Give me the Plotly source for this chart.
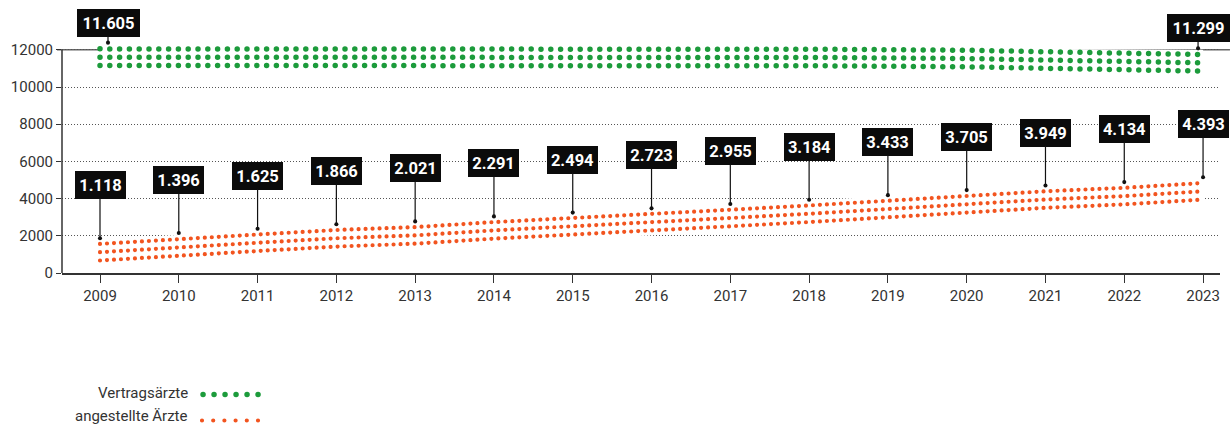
import plotly.graph_objects as go

# ---------------- data ----------------
years = list(range(2009, 2024))
vertragsaerzte = [11605, 11600, 11595, 11550, 11540, 11570, 11580, 11585,
                  11585, 11590, 11570, 11530, 11450, 11360, 11299]
angestellte = [1118, 1396, 1625, 1866, 2021, 2291, 2494, 2723,
               2955, 3184, 3433, 3705, 3949, 4134, 4393]
green_label_years = [2009, 2023]
y_ticks = [0, 2000, 4000, 6000, 8000, 10000, 12000]
series_names = ["Vertragsärzte", "angestellte Ärzte"]

GREEN = "#1c9b3b"
ORANGE = "#f2541f"
FONT = "Roboto"
ROW_OFFSETS = [445, 0, -445]   # three rows of dots per series


def de_num(v):
    return f"{v:,}".replace(",", ".")


fig = go.Figure()

# white bands under the dotted rows (hide gridlines like the original)
for vals in (vertragsaerzte, angestellte):
    fig.add_trace(go.Scatter(x=years, y=vals, mode="lines",
                             line=dict(color="white", width=26),
                             hoverinfo="skip", showlegend=False))

# dotted rows
for vals, col, w, dash in ((vertragsaerzte, GREEN, 5.5, "0px,9.8px"),
                           (angestellte, ORANGE, 4.2, "0px,7px")):
    for off in ROW_OFFSETS:
        fig.add_trace(go.Scatter(x=years, y=[v + off for v in vals], mode="lines",
                                 line=dict(color=col, width=w, dash=dash),
                                 hoverinfo="skip", showlegend=False))

annotations = []
common = dict(xref="x", yref="y", showarrow=True, arrowhead=6, arrowsize=0.85,
              arrowwidth=1.2, arrowcolor="#111111", standoff=0,
              bgcolor="#0b0b0b", bordercolor="#0b0b0b", borderwidth=1,
              borderpad=3, height=20,
              font=dict(color="white", size=16.5, family=FONT))

for yr, v in zip(years, angestellte):
    annotations.append(dict(x=yr, y=v, text=f"<b>{de_num(v)}</b>", ax=0, ay=-53,
                            yshift=14, width=43, **common))

for yr in green_label_years:
    v = vertragsaerzte[years.index(yr)]
    annotations.append(dict(x=yr, y=v, text=f"<b>{de_num(v)}</b>", ax=0, ay=-20,
                            yshift=14.5, xshift=8 if yr == years[0] else -5,
                            width=55, **common))

# manual legend (text left, dotted key right)
for name, yp in zip(series_names, [-0.517, -0.613]):
    annotations.append(dict(x=0.1105, y=yp, xref="paper", yref="paper", text=name,
                            showarrow=False, xanchor="right", yanchor="middle",
                            font=dict(size=15, color="#333333", family=FONT)))

shapes = [
    # solid 12000 line
    dict(type="line", xref="paper", yref="y", x0=-0.0043, x1=1.0086, y0=12000, y1=12000,
         line=dict(color="#666666", width=1.5), layer="between"),
    # y axis line
    dict(type="line", xref="paper", yref="y", x0=0, x1=0, y0=0, y1=12000,
         line=dict(color="#333333", width=1.5), layer="above"),
    # legend keys
    dict(type="line", xref="paper", yref="paper", x0=0.1218, x1=0.1710, y0=-0.521, y1=-0.521,
         line=dict(color=GREEN, width=5.5, dash="0px,11px")),
    dict(type="line", xref="paper", yref="paper", x0=0.1209, x1=0.1710, y0=-0.633, y1=-0.633,
         line=dict(color=ORANGE, width=4.2, dash="0px,11.2px")),
]

fig.update_layout(
    width=1230, height=429,
    margin=dict(l=62, r=10, t=40, b=156),
    paper_bgcolor="white", plot_bgcolor="white",
    showlegend=False,
    annotations=annotations, shapes=shapes,
    font=dict(family=FONT, color="#333333", size=15),
)
fig.update_xaxes(range=[2008.5177, 2023.215], tickvals=years, ticktext=[str(y) for y in years],
                 showgrid=False, zeroline=False, showline=True, linecolor="#333333",
                 linewidth=1.5, ticks="outside", ticklen=8, tickcolor="#333333",
                 tickwidth=1.2, tickfont=dict(size=15, color="#333333", family=FONT))
fig.update_yaxes(range=[0, 12527], tickvals=y_ticks, ticktext=[str(t) for t in y_ticks],
                 showgrid=True, gridcolor="#555555", griddash="1px,2px", gridwidth=1,
                 zeroline=False, showline=False, ticks="outside", ticklen=5,
                 tickcolor="#333333", tickwidth=1.2,
                 tickfont=dict(size=15, color="#333333", family=FONT))

post = """
var gd = document.getElementById('{plot_id}');
function rnd(){
  gd.querySelectorAll('path').forEach(function(p){
    var d = p.style.strokeDasharray || p.getAttribute('stroke-dasharray') || '';
    if (d.indexOf('0px') === 0 || d.indexOf('0,') === 0 || d.indexOf('0 ') === 0) {
      p.style.strokeLinecap = 'round';
    }
  });
}
rnd();
gd.on('plotly_afterplot', rnd);
"""

fig.write_html("out.html", post_script=post, config={"displayModeBar": False})
